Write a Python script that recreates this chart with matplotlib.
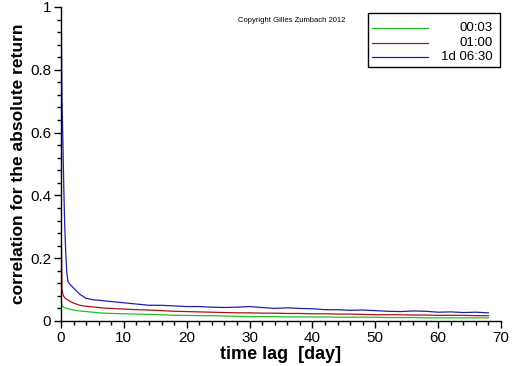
import matplotlib
matplotlib.use("Agg")
import matplotlib.pyplot as plt
from matplotlib.lines import Line2D
from matplotlib.patches import Rectangle
from matplotlib.ticker import MultipleLocator

lags = [0.05, 0.15, 0.3, 0.45, 0.6, 0.75, 0.9, 1.1, 1.5, 2, 3, 4, 5, 6, 7, 8, 10, 12, 14, 16,
        18, 20, 22, 24, 26, 28, 30, 32, 34, 36, 38, 40, 42, 44, 46, 48, 50, 52, 54, 56,
        58, 60, 62, 64, 66, 68]

corr_0003 = [0.062, 0.050, 0.046, 0.044, 0.042, 0.041, 0.040, 0.039, 0.037, 0.035, 0.032, 0.030,
             0.028, 0.026, 0.025, 0.024, 0.023, 0.022, 0.021, 0.020, 0.018, 0.018, 0.017, 0.017,
             0.016, 0.015, 0.014, 0.014, 0.014, 0.013, 0.013, 0.013, 0.013, 0.012, 0.012, 0.012,
             0.012, 0.011, 0.011, 0.011, 0.010, 0.010, 0.010, 0.010, 0.010, 0.010]
corr_0100 = [0.270, 0.100, 0.085, 0.078, 0.074, 0.071, 0.069, 0.067, 0.062, 0.057, 0.050, 0.047,
             0.045, 0.043, 0.041, 0.040, 0.038, 0.036, 0.035, 0.033, 0.031, 0.030, 0.029, 0.028,
             0.027, 0.026, 0.026, 0.025, 0.025, 0.024, 0.024, 0.023, 0.023, 0.022, 0.022, 0.021,
             0.020, 0.020, 0.020, 0.019, 0.019, 0.018, 0.018, 0.018, 0.017, 0.017]
corr_1d0630 = [0.950, 0.720, 0.570, 0.420, 0.300, 0.220, 0.160, 0.125, 0.115, 0.105, 0.085, 0.072,
               0.068, 0.066, 0.064, 0.062, 0.058, 0.054, 0.050, 0.050, 0.048, 0.046, 0.046, 0.044,
               0.043, 0.044, 0.046, 0.043, 0.040, 0.042, 0.040, 0.039, 0.036, 0.036, 0.034, 0.035,
               0.033, 0.031, 0.030, 0.032, 0.031, 0.028, 0.029, 0.027, 0.028, 0.026]

series_labels = ["00:03", "01:00", "1d 06:30"]
series_colors = ["#22c022", "#b01010", "#2020b0"]

plt.rcParams['font.family'] = ['Liberation Sans', 'DejaVu Sans']

fig = plt.figure(figsize=(5.12, 3.66), dpi=100)
ax = fig.add_axes([61/512, 1-321/366, 440/512, 314/366])

for y, c in zip([corr_0003, corr_0100, corr_1d0630], series_colors):
    ax.plot(lags, y, color=c, lw=0.9)

ax.set_xlim(0, 70)
ax.set_ylim(0, 1)
ax.xaxis.set_major_locator(MultipleLocator(10))
ax.xaxis.set_minor_locator(MultipleLocator(2))
ax.yaxis.set_major_locator(MultipleLocator(0.2))
ax.yaxis.set_minor_locator(MultipleLocator(0.04))
ax.set_yticks([0, 0.2, 0.4, 0.6, 0.8, 1.0])
ax.set_yticklabels(["0", "0.2", "0.4", "0.6", "0.8", "1"])
for s in ['top', 'right']:
    ax.spines[s].set_visible(False)
for s in ['left', 'bottom']:
    ax.spines[s].set_linewidth(1.0)
ax.tick_params(which='major', direction='out', length=5, width=1, labelsize=11, pad=2)
ax.tick_params(which='minor', direction='out', length=3, width=1)

ax.set_xlabel("time lag  [day]", fontsize=13, fontweight='semibold', labelpad=1)
ax.set_ylabel("correlation for the absolute return", fontsize=12.5, fontweight='semibold', labelpad=3)

fig.text(292/512, 1-20/366, "Copyright Gilles Zumbach 2012", fontsize=5.5, ha='center', va='center')

# legend drawn manually
fig.add_artist(Rectangle((368/512, 1-67/366), 132/512, 54/366, transform=fig.transFigure,
                         fill=False, edgecolor='black', lw=1))
for i, (lab, c) in enumerate(zip(series_labels, series_colors)):
    yy = 1 - (28 + 14.5*i)/366
    fig.add_artist(Line2D([372/512, 428/512], [yy, yy], transform=fig.transFigure, color=c, lw=0.9))
    fig.text(493/512, yy, lab, fontsize=9.5, ha='right', va='center')

fig.savefig("out.png", dpi=100)
